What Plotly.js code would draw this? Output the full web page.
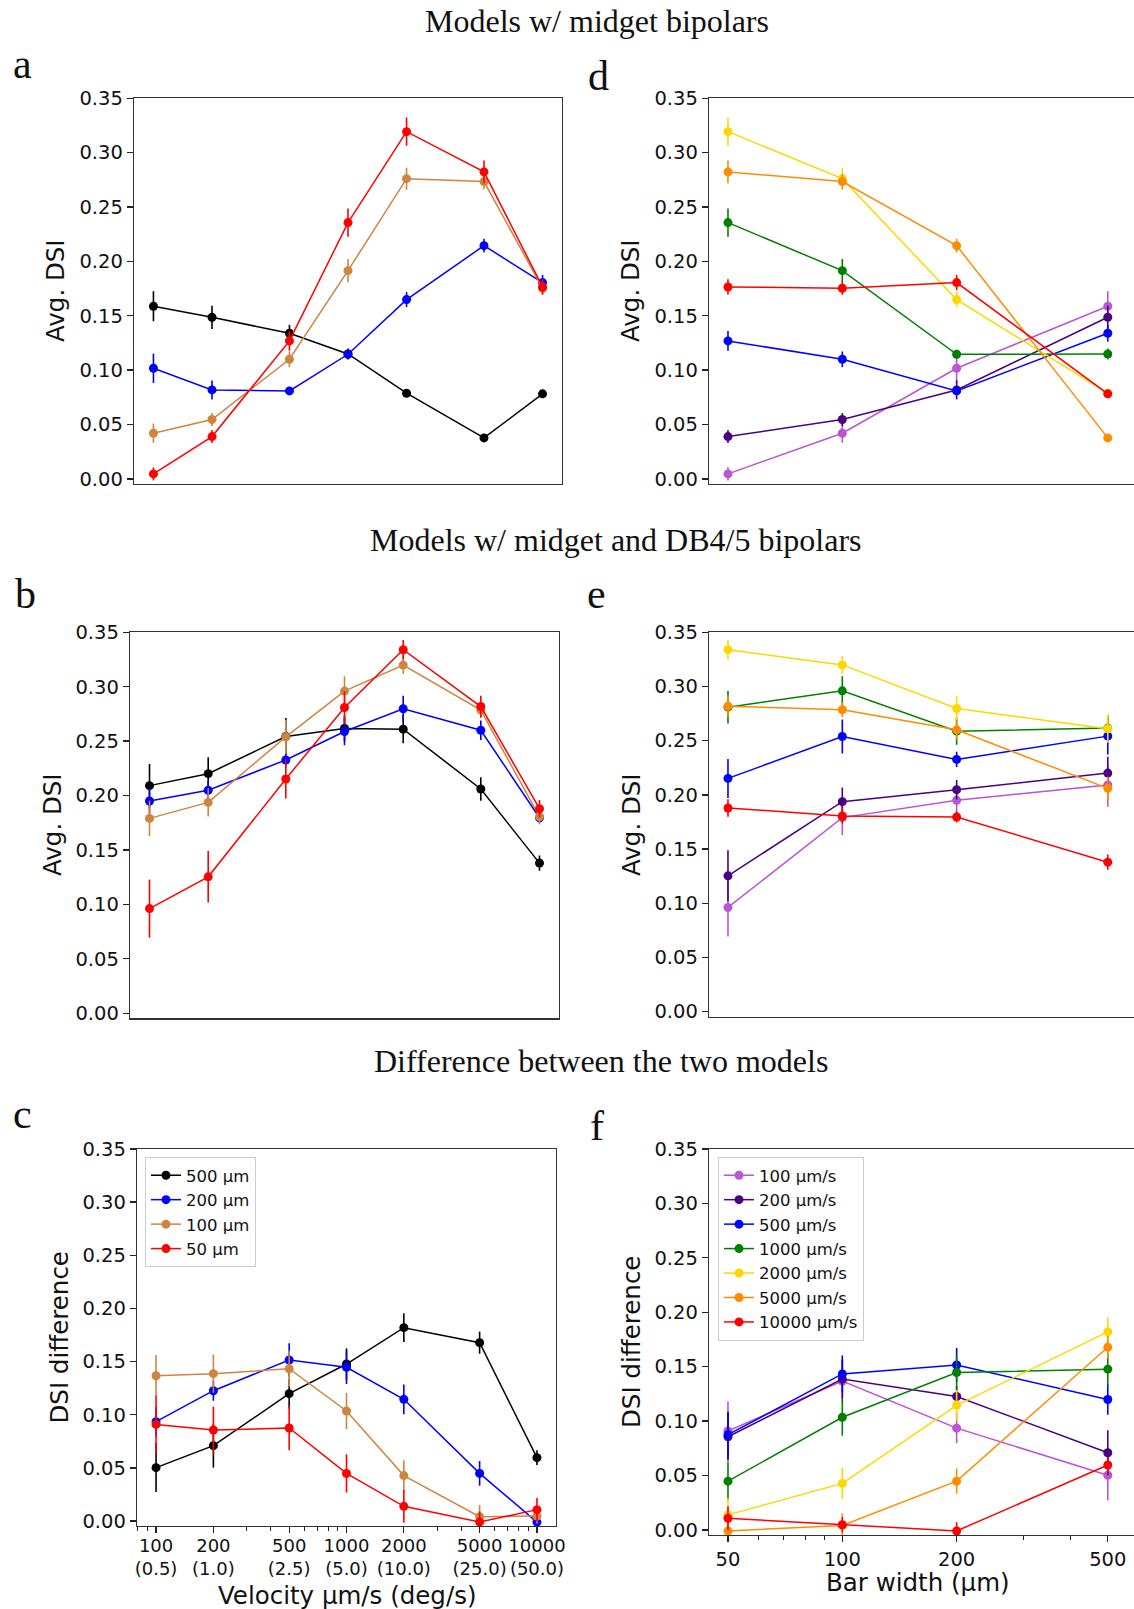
<!DOCTYPE html>
<html><head><meta charset="utf-8">
<script src="https://cdn.plot.ly/plotly-3.0.1.min.js"></script>
<style>html,body{margin:0;padding:0;background:#fff;} #chart{width:1134px;height:1609px;}</style>
</head><body><div id="chart"></div>
<script>
// ---------- data ----------
const velocities = [100, 200, 500, 1000, 2000, 5000, 10000];
const velocityTickText = ['100<br>(0.5)', '200<br>(1.0)', '500<br>(2.5)', '1000<br>(5.0)', '2000<br>(10.0)', '5000<br>(25.0)', '10000<br>(50.0)'];
const barWidths = [50, 100, 200, 500];
const barWidthNames = ['50 μm', '100 μm', '200 μm', '500 μm'];
const velocityNames = ['100 μm/s', '200 μm/s', '500 μm/s', '1000 μm/s', '2000 μm/s', '5000 μm/s', '10000 μm/s'];

// Models w/ midget bipolars (avg DSI vs velocity), one array per bar width
const midgetW50 = [0.0046, 0.0389, 0.1269, 0.2357, 0.3193, 0.2823, 0.1765];
const midgetW50Err = [0.006, 0.006, 0.009, 0.013, 0.013, 0.0104, 0.007];
const midgetW100 = [0.0420, 0.0546, 0.1100, 0.1915, 0.2761, 0.2734, 0.1753];
const midgetW100Err = [0.0089, 0.006, 0.0072, 0.0107, 0.0101, 0.007, 0.006];
const midgetW200 = [0.1017, 0.0818, 0.0809, 0.1146, 0.1649, 0.2145, 0.1805];
const midgetW200Err = [0.0135, 0.0087, 0.003, 0.004, 0.0069, 0.0064, 0.007];
const midgetW500 = [0.1588, 0.1486, 0.1339, 0.1149, 0.0788, 0.0377, 0.0782];
const midgetW500Err = [0.0138, 0.0107, 0.0077, 0.005, 0.002, 0.002, 0.002];

// Models w/ midget and DB4/5 bipolars
const dbW50 = [0.0961, 0.1253, 0.2152, 0.2809, 0.3340, 0.2818, 0.1879];
const dbW50Err = [0.0267, 0.0237, 0.018, 0.015, 0.009, 0.010, 0.008];
const dbW100 = [0.1790, 0.1937, 0.2539, 0.2960, 0.3199, 0.2785, 0.1805];
const dbW100Err = [0.0163, 0.013, 0.0157, 0.0135, 0.0083, 0.007, 0.007];
const dbW200 = [0.1950, 0.2048, 0.2327, 0.2588, 0.2797, 0.2600, 0.1796];
const dbW200Err = [0.012, 0.009, 0.007, 0.0125, 0.012, 0.009, 0.005];
const dbW500 = [0.2091, 0.2201, 0.2542, 0.2616, 0.2610, 0.2060, 0.1379];
const dbW500Err = [0.020, 0.015, 0.017, 0.012, 0.013, 0.0107, 0.007];

// Difference between the two models
const diffW50 = [0.0909, 0.0856, 0.0875, 0.0448, 0.0138, -0.001, 0.0107];
const diffW50Err = [0.027, 0.022, 0.021, 0.018, 0.0154, 0.010, 0.011];
const diffW100 = [0.1367, 0.1386, 0.1433, 0.1035, 0.0427, 0.0041, 0.0047];
const diffW100Err = [0.0195, 0.018, 0.017, 0.017, 0.0145, 0.011, 0.007];
const diffW200 = [0.0935, 0.1226, 0.1515, 0.1446, 0.1145, 0.0448, -0.001];
const diffW200Err = [0.014, 0.0095, 0.0157, 0.0157, 0.014, 0.0116, 0.008];
const diffW500 = [0.0502, 0.0709, 0.1198, 0.1477, 0.1819, 0.1678, 0.0596];
const diffW500Err = [0.023, 0.0207, 0.014, 0.0147, 0.0135, 0.0104, 0.007];

// ---------- styling ----------
const widthColors = {50: '#FF0000', 100: '#CD853F', 200: '#0000FF', 500: '#000000'};
const velocityColors = ['#BA55D3', '#4B0082', '#0000FF', '#008000', '#FFD700', '#FF8C00', '#FF0000'];
const W = 1134, H = 1609;
const fx = p => p / W;
const fy = p => 1 - p / H;
const SANS = 'DejaVu Sans, sans-serif';
const SERIF = 'Liberation Serif, Times New Roman, serif';
const TICK = 19.5;

const models = [
  {rows: {50: [midgetW50, midgetW50Err], 100: [midgetW100, midgetW100Err], 200: [midgetW200, midgetW200Err], 500: [midgetW500, midgetW500Err]}, left: ['x', 'y'], right: ['x2', 'y2'], legendL: null, legendR: null},
  {rows: {50: [dbW50, dbW50Err], 100: [dbW100, dbW100Err], 200: [dbW200, dbW200Err], 500: [dbW500, dbW500Err]}, left: ['x3', 'y3'], right: ['x4', 'y4'], legendL: null, legendR: null},
  {rows: {50: [diffW50, diffW50Err], 100: [diffW100, diffW100Err], 200: [diffW200, diffW200Err], 500: [diffW500, diffW500Err]}, left: ['x5', 'y5'], right: ['x6', 'y6'], legendL: 'legend', legendR: 'legend2'}
];

const traces = [];
const leftOrder = [500, 200, 100, 50];
models.forEach(m => {
  leftOrder.forEach(w => {
    const [vals, errs] = m.rows[w];
    const c = widthColors[w];
    const t = {
      type: 'scatter', mode: 'lines+markers', x: velocities, y: vals,
      xaxis: m.left[0], yaxis: m.left[1],
      name: barWidthNames[barWidths.indexOf(w)],
      line: {color: c, width: 1.5}, marker: {color: c, size: 9},
      error_y: {type: 'data', array: errs, visible: true, width: 0, thickness: 1.6, color: c},
      showlegend: !!m.legendL
    };
    if (m.legendL) t.legend = m.legendL;
    traces.push(t);
  });
  velocities.forEach((v, k) => {
    const c = velocityColors[k];
    const ys = barWidths.map(w => m.rows[w][0][k]);
    const es = barWidths.map(w => m.rows[w][1][k]);
    const t = {
      type: 'scatter', mode: 'lines+markers', x: barWidths, y: ys,
      xaxis: m.right[0], yaxis: m.right[1],
      name: velocityNames[k],
      line: {color: c, width: 1.5}, marker: {color: c, size: 9},
      error_y: {type: 'data', array: es, visible: true, width: 0, thickness: 1.6, color: c},
      showlegend: !!m.legendR
    };
    if (m.legendR) t.legend = m.legendR;
    traces.push(t);
  });
});

// ---------- axes ----------
const frame = {showline: true, linecolor: '#333', linewidth: 1.3, showgrid: false, zeroline: false};
function yax(anchor, top, bottom, mirror) {
  return Object.assign({}, frame, {
    anchor: anchor, domain: [fy(bottom), fy(top)], range: [-0.0047, 0.35],
    tickmode: 'linear', tick0: 0, dtick: 0.05, tickformat: '.2f',
    ticks: 'outside', ticklen: 6, tickwidth: 1.3, tickcolor: '#222',
    tickfont: {family: SANS, size: TICK, color: '#111'}, mirror: mirror
  });
}
function xaxTop(anchor, l, r, range) {
  return Object.assign({}, frame, {
    anchor: anchor, domain: [fx(l), fx(r)], type: 'log', range: range,
    showticklabels: false, ticks: '', mirror: true
  });
}
function xaxBottom(anchor, l, r, range, vals, text, minorVals, fontSize, standoff) {
  return Object.assign({}, frame, {
    anchor: anchor, domain: [fx(l), fx(r)], type: 'log', range: range,
    tickmode: 'array', tickvals: vals, ticktext: text, tickangle: 0,
    ticks: 'outside', ticklen: 6, tickwidth: 1.3, tickcolor: '#222',
    ticklabelstandoff: standoff,
    tickfont: {family: SANS, size: fontSize, color: '#111'}, mirror: true,
    minor: {tickmode: 'array', tickvals: minorVals, ticks: 'outside', ticklen: 3.5, tickwidth: 1, tickcolor: '#222'}
  });
}
const velRange = [1.9, 4.1];
const bwRange = [1.649, 2.768];

const layout = {
  width: W, height: H, margin: {l: 0, r: 0, t: 0, b: 0},
  paper_bgcolor: '#fff', plot_bgcolor: '#fff',
  font: {family: SANS, color: '#111'},
  xaxis: xaxTop('y', 134, 562, velRange),
  yaxis: yax('x', 98.3, 484, true),
  xaxis2: xaxTop('y2', 709, 1134, bwRange),
  yaxis2: yax('x2', 98.3, 484, false),
  xaxis3: xaxTop('y3', 130, 559, velRange),
  yaxis3: yax('x3', 632.3, 1018.3, true),
  xaxis4: xaxTop('y4', 709, 1134, bwRange),
  yaxis4: yax('x4', 632.3, 1016.7, false),
  xaxis5: xaxBottom('y5', 137, 556, velRange, velocities, velocityTickText,
    [80, 90, 300, 400, 600, 700, 800, 900, 3000, 4000, 6000, 7000, 8000, 9000], 18, -3),
  yaxis5: yax('x5', 1149, 1526, true),
  xaxis6: xaxBottom('y6', 709, 1134, bwRange, barWidths, barWidths.map(String),
    [60, 70, 80, 90, 300, 400], TICK, 0),
  yaxis6: yax('x6', 1149, 1535, false),
  legend: {x: fx(145), y: fy(1157), xanchor: 'left', yanchor: 'top', bgcolor: 'rgba(255,255,255,0.85)',
    bordercolor: '#cccccc', borderwidth: 1, font: {family: SANS, size: 16.5, color: '#111'}, tracegroupgap: 0},
  legend2: {x: fx(718), y: fy(1157), xanchor: 'left', yanchor: 'top', bgcolor: 'rgba(255,255,255,0.85)',
    bordercolor: '#cccccc', borderwidth: 1, font: {family: SANS, size: 16.5, color: '#111'}, tracegroupgap: 0},
  annotations: []
};

function ann(text, x, y, font, extra) {
  layout.annotations.push(Object.assign({
    text: text, xref: 'paper', yref: 'paper', x: fx(x), y: fy(y),
    xanchor: 'center', yanchor: 'middle', showarrow: false, font: font
  }, extra || {}));
}
const titleFont = {family: SERIF, size: 32, color: '#111'};
const letterFont = {family: SERIF, size: 42, color: '#111'};
const axFont = {family: SANS, size: 24.5, color: '#111'};
ann('Models w/ midget bipolars', 597, 21, titleFont);
ann('Models w/ midget and DB4/5 bipolars', 616, 540, titleFont);
ann('Difference between the two models', 601, 1061, titleFont);
ann('a', 22, 64, letterFont);
ann('d', 598, 76, letterFont);
ann('b', 25, 594, letterFont);
ann('e', 596, 594, letterFont);
ann('c', 22, 1114, letterFont);
ann('f', 597, 1126, letterFont);
ann('Avg. DSI', 134 - 78, 291, axFont, {textangle: -90});
ann('Avg. DSI', 709 - 78, 291, axFont, {textangle: -90});
ann('Avg. DSI', 130 - 78, 825, axFont, {textangle: -90});
ann('Avg. DSI', 709 - 78, 825, axFont, {textangle: -90});
ann('DSI difference', 137 - 78, 1337.5, axFont, {textangle: -90});
ann('DSI difference', 709 - 78, 1342, axFont, {textangle: -90});
ann('Velocity μm/s (deg/s)', 346.5, 1595, axFont);
ann('Bar width (μm)', 918, 1582, axFont);

Plotly.newPlot('chart', traces, layout, {displayModeBar: false, staticPlot: true});
</script></body></html>
